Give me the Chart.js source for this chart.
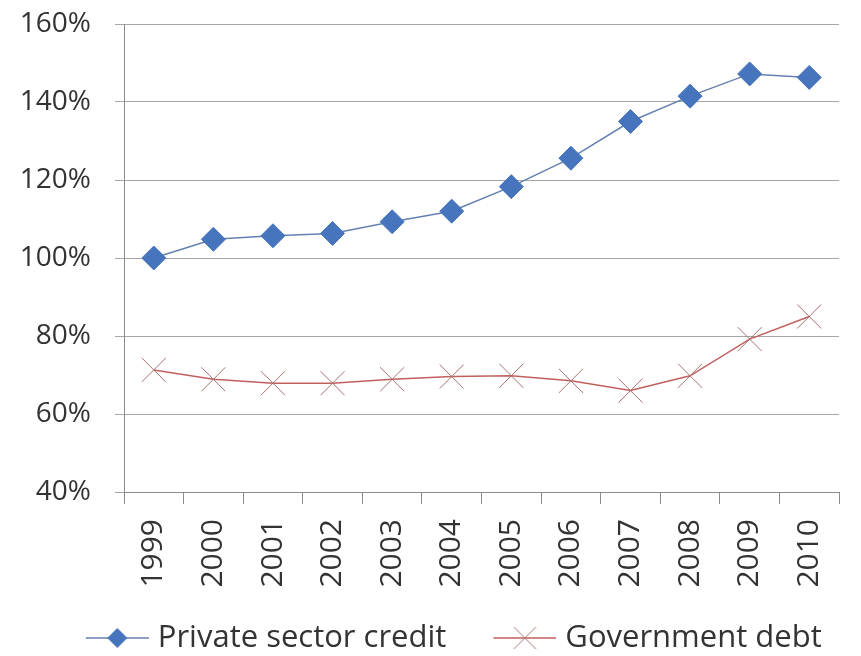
<!DOCTYPE html>
<html>
<head>
<meta charset="utf-8">
<script src="https://cdn.jsdelivr.net/npm/chart.js@4"></script>
<style>
  html, body { margin: 0; padding: 0; background: #fff; }
  #wrap { width: 861px; height: 656px; position: relative; }
</style>
</head>
<body>
<div id="wrap"><canvas id="myChart"></canvas></div>
<script>
    var years = ['1999', '2000', '2001', '2002', '2003', '2004', '2005', '2006', '2007', '2008', '2009', '2010'];
    var privateCredit = [100, 104.8, 105.7, 106.3, 109.3, 112, 118.3, 125.6, 135, 141.5, 147.2, 146.3];
    var governmentDebt = [71.3, 68.9, 67.9, 67.9, 68.9, 69.6, 69.8, 68.5, 66, 69.8, 79.2, 85];
    var yTicks = [40, 60, 80, 100, 120, 140, 160];

    var blue = '#4674bd';
    var blueLine = '#6580b0';
    var red = '#c0605e';
    var redMark = '#a8716f';

    // legend icon: line with marker, drawn in the right 63px of a wider canvas
    // (the empty left part works as spacing between legend items)
    function legendIcon(kind) {
        var c = document.createElement('canvas');
        c.width = 107;
        c.height = 24;
        var g = c.getContext('2d');
        var x0 = 44, mid = x0 + 31.5;
        g.lineWidth = 1.5;
        g.strokeStyle = kind === 'diamond' ? blueLine : red;
        g.beginPath();
        g.moveTo(x0, 12);
        g.lineTo(x0 + 63, 12);
        g.stroke();
        if (kind === 'diamond') {
            g.fillStyle = blue;
            g.beginPath();
            g.moveTo(mid - 10, 12);
            g.lineTo(mid, 2);
            g.lineTo(mid + 10, 12);
            g.lineTo(mid, 22);
            g.closePath();
            g.fill();
        } else {
            g.strokeStyle = redMark;
            g.lineWidth = 1;
            g.beginPath();
            g.moveTo(mid - 11, 1);
            g.lineTo(mid + 11, 23);
            g.moveTo(mid + 11, 1);
            g.lineTo(mid - 11, 23);
            g.stroke();
        }
        return c;
    }

    var data = {
        labels: years,
        datasets: [{
            label: 'Private sector credit',
            data: privateCredit,
            borderColor: blueLine,
            borderWidth: 1.5,
            backgroundColor: blue,
            pointStyle: 'rectRot',
            pointRadius: 12,
            pointBackgroundColor: blue,
            pointBorderColor: blue,
            pointBorderWidth: 1,
            tension: 0
        }, {
            label: 'Government debt',
            data: governmentDebt,
            borderColor: red,
            borderWidth: 1.5,
            backgroundColor: red,
            pointStyle: 'crossRot',
            pointRadius: 17,
            pointBorderColor: redMark,
            pointBorderWidth: 1,
            tension: 0
        }]
    };

    var icons = [legendIcon('diamond'), legendIcon('cross')];

    var config = {
        type: 'line',
        data: data,
        options: {
            responsive: true,
            maintainAspectRatio: false,
            animation: false,
            layout: {
                padding: { top: 24, left: 12, right: 3, bottom: -7.5 }
            },
            plugins: {
                tooltip: { enabled: false },
                legend: {
                    position: 'bottom',
                    labels: {
                        usePointStyle: true,
                        pointStyleWidth: 94,
                        boxHeight: 24,
                        padding: 9.5,
                        color: '#333',
                        font: { family: 'Open Sans', size: 31 },
                        generateLabels: function (chart) {
                            return chart.data.datasets.map(function (ds, i) {
                                return {
                                    text: ds.label,
                                    pointStyle: icons[i],
                                    fillStyle: 'transparent',
                                    strokeStyle: 'transparent',
                                    lineWidth: 0,
                                    fontColor: '#333',
                                    datasetIndex: i
                                };
                            });
                        }
                    }
                }
            },
            scales: {
                x: {
                    offset: true,
                    afterFit: function (scale) {
                        scale.height = 121;
                    },
                    grid: {
                        offset: true,
                        drawOnChartArea: false,
                        drawTicks: true,
                        tickLength: 12,
                        color: '#8c8c8c'
                    },
                    border: { display: true, color: '#8c8c8c', width: 1 },
                    ticks: {
                        minRotation: 90,
                        maxRotation: 90,
                        padding: 15,
                        color: '#333',
                        font: { family: 'Open Sans', size: 30 }
                    }
                },
                y: {
                    min: 40,
                    max: 160,
                    afterBuildTicks: function (scale) {
                        scale.ticks = yTicks.map(function (v) { return { value: v }; });
                    },
                    afterFit: function (scale) {
                        scale.width = 112;
                        scale.paddingTop = 0;
                        scale.paddingBottom = 0;
                    },
                    grid: {
                        color: '#a6a6a6',
                        drawTicks: true,
                        tickLength: 9
                    },
                    border: { display: true, color: '#8c8c8c', width: 1 },
                    ticks: {
                        padding: 24,
                        color: '#333',
                        font: { family: 'Open Sans', size: 28 },
                        callback: function (v) { return v + '%'; }
                    }
                }
            }
        }
    };

    var myChart = new Chart(
        document.getElementById('myChart').getContext('2d'),
        config
    );
</script>
</body>
</html>
